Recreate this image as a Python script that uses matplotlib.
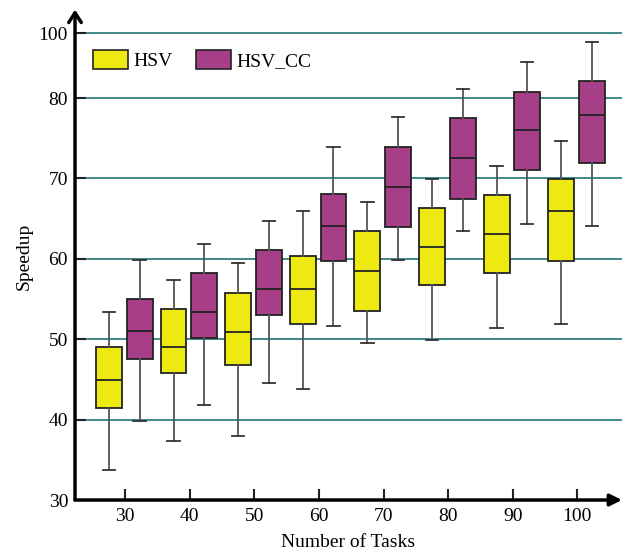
import numpy as np
import matplotlib
matplotlib.use('Agg')
from matplotlib import pyplot as plt
from matplotlib.patches import Patch

plt.rcParams['font.family'] = ['Liberation Serif', 'DejaVu Serif']

tasks = [30, 40, 50, 60, 70, 80, 90, 100]

# whisker low, q1, median, q3, whisker high
hsv_lo = [33.7, 37.4, 38.0, 43.8, 49.5, 49.9, 51.4, 51.9]
hsv_q1 = [41.4, 45.8, 46.8, 51.9, 53.5, 56.7, 58.3, 59.7]
hsv_med = [44.9, 49.0, 50.9, 56.3, 58.5, 61.5, 63.1, 65.9]
hsv_q3 = [49.0, 53.8, 55.8, 60.3, 63.5, 66.3, 67.9, 69.9]
hsv_hi = [53.4, 57.4, 59.5, 65.9, 67.1, 69.9, 71.5, 74.7]

cc_lo = [39.8, 41.8, 44.6, 51.7, 59.9, 63.5, 64.3, 64.1]
cc_q1 = [47.5, 50.2, 53.0, 59.7, 63.9, 67.5, 71.1, 71.95]
cc_med = [51.0, 53.4, 56.3, 64.1, 68.9, 72.5, 75.97, 77.9]
cc_q3 = [55.0, 58.3, 61.1, 68.1, 73.9, 77.55, 81.9, 85.3]
cc_hi = [59.9, 61.9, 64.7, 73.95, 77.6, 82.9, 91.0, 97.3]

yticks = [30, 40, 50, 60, 70, 80, 100]

# the axis is squeezed above 80
K = 0.404


def fwd(v):
    v = np.asarray(v, dtype=float)
    return np.where(v <= 80, v, 80 + (v - 80) * K)


def inv(u):
    u = np.asarray(u, dtype=float)
    return np.where(u <= 80, u, 80 + (u - 80) / K)


def stats(lo, q1, med, q3, hi):
    return [dict(whislo=a, q1=b, med=c, q3=d, whishi=e, fliers=[])
            for a, b, c, d, e in zip(lo, q1, med, q3, hi)]


fig = plt.figure(figsize=(6.33, 5.53), dpi=100)
ax = fig.add_axes([0.1185, 0.0958, 0.864, 0.8825])
ax.set_yscale('function', functions=(fwd, inv))

yellow = '#eee911'
purple = '#a63f88'
grid_c = '#1f7676'

for y in yticks[1:]:
    ax.axhline(y, color=grid_c, lw=1.2, zorder=0)


def draw(data, pos, color):
    ax.bxp(data, positions=pos, widths=4.0, patch_artist=True,
           showfliers=False, capwidths=1.9,
           boxprops=dict(facecolor=color, edgecolor='#222222', lw=1.3),
           medianprops=dict(color='#222222', lw=1.3),
           whiskerprops=dict(color='#555555', lw=1.3),
           capprops=dict(color='#333333', lw=1.3),
           manage_ticks=False, zorder=3)


pos = np.array(tasks, dtype=float)
draw(stats(hsv_lo, hsv_q1, hsv_med, hsv_q3, hsv_hi), pos - 2.5, yellow)
draw(stats(cc_lo, cc_q1, cc_med, cc_q3, cc_hi), pos + 2.25, purple)

ax.set_xlim(22.25, 106.9)
ax.set_ylim(30, 106.5)
ax.set_xticks(tasks)
ax.set_yticks(yticks)
ax.set_xticklabels([str(t) for t in tasks], fontsize=14)
ax.set_yticklabels([str(t) for t in yticks], fontsize=14)
ax.tick_params(direction='in', length=8, width=1.5, color='#222222', pad=6)
ax.tick_params(axis='y', pad=5)

for s in ax.spines.values():
    s.set_visible(False)

# axes with arrows
ax.annotate('', xy=(0, 1.005), xytext=(0, 0), xycoords='axes fraction',
            arrowprops=dict(arrowstyle='->,head_length=0.7,head_width=0.45',
                            lw=2.5, color='black', shrinkA=0, shrinkB=0))
ax.annotate('', xy=(1.0, 0), xytext=(0, 0), xycoords='axes fraction',
            arrowprops=dict(arrowstyle='-|>,head_length=0.7,head_width=0.35',
                            lw=2.5, color='black', shrinkA=0, shrinkB=0))

ax.set_xlabel('Number of Tasks', fontsize=14, labelpad=6)
ax.set_ylabel('Speedup', fontsize=14, labelpad=4)

handles = [Patch(facecolor=yellow, edgecolor='#222222', lw=1.2),
           Patch(facecolor=purple, edgecolor='#222222', lw=1.2)]
ax.legend(handles, ['HSV', 'HSV_CC'], ncol=2, frameon=False, fontsize=14,
          loc='upper left', bbox_to_anchor=(0.0, 0.958),
          handlelength=1.8, handleheight=1.1, handletextpad=0.3,
          columnspacing=1.2)

fig.savefig('out.png', dpi=100)
